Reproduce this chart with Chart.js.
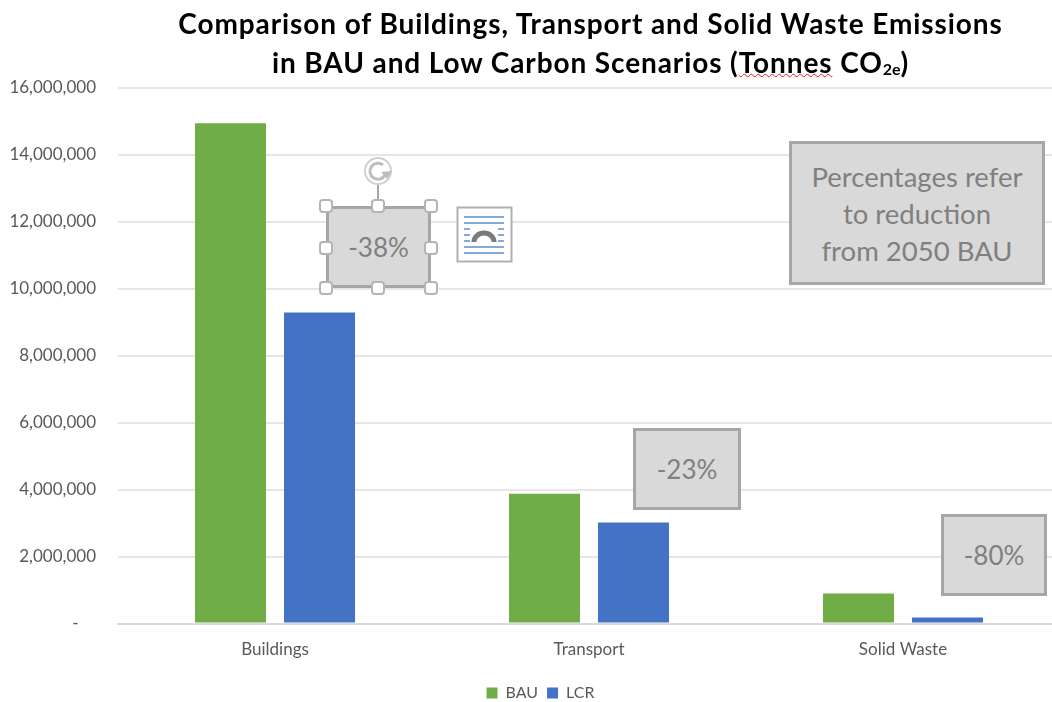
<!DOCTYPE html>
<html>
<head>
<meta charset="utf-8">
<script src="https://cdn.jsdelivr.net/npm/chart.js@4"></script>
<style>
html, body { margin: 0; padding: 0; background: #fff; overflow: hidden; }
#wrap { position: relative; width: 1052px; height: 702px; overflow: hidden; }
#chart-1 { position: absolute; left: 0; top: 0; }
#title { position: absolute; left: 0; top: 4px; width: 1181px; text-align: center; font: bold 28px/39px Lato, sans-serif; letter-spacing: 0.9px; color: #000; }
#title sub { font-size: 16px; line-height: 0; vertical-align: -2px; letter-spacing: 0; }
#title u { text-decoration: underline wavy #e02020 1px; text-underline-offset: 0px; }
.note { position: absolute; box-sizing: border-box; background: #d9d9d9; border: 3px solid #a6a6a6; color: #808080; font: 26px/37px Lato, sans-serif; text-align: center; display: flex; align-items: center; justify-content: center; }
.big { font-size: 27.5px; }
.handle { position: absolute; box-sizing: border-box; width: 14px; height: 14px; margin: -7px 0 0 -7px; background: #fff; border: 2px solid #b5b5b5; border-radius: 4px; }
#tools { position: absolute; left: 0; top: 0; }
</style>
</head>
<body>
<div id="wrap">
  <canvas id="chart-1" width="1060" height="711"></canvas>
  <div id="title">Comparison of Buildings, Transport and Solid Waste Emissions<br>in BAU and Low Carbon Scenarios (<u>Tonnes</u> CO<sub>2e</sub>)</div>
  <div class="note big" style="left:789px;top:141px;width:256px;height:144px">Percentages refer<br>to reduction<br>from 2050 BAU</div>
  <div class="note" style="left:326px;top:206px;width:105px;height:82px">-38%</div>
  <div class="note" style="left:633px;top:428px;width:108px;height:82px">-23%</div>
  <div class="note" style="left:941px;top:514px;width:106px;height:82px">-80%</div>
  <svg id="tools" width="1052" height="702">
    <line x1="378" y1="184" x2="378" y2="206" stroke="#a6a6a6" stroke-width="2"/>
    <circle cx="378" cy="171" r="13" fill="#fff" stroke="#d0d0d0" stroke-width="2"/>
    <path d="M385 175 A8 8 0 1 1 383 165" fill="none" stroke="#bdbdbd" stroke-width="3"/>
    <path d="M381 172 L392 171 L387 179 Z" fill="#bdbdbd"/>
    <rect x="457.5" y="207.5" width="54" height="54" fill="#fff" stroke="#b0b0b0" stroke-width="2"/>
    <g stroke="#5b8fc7" stroke-width="1.5">
      <line x1="464" y1="217" x2="504" y2="217"/>
      <line x1="464" y1="223" x2="504" y2="223"/>
      <line x1="464" y1="229" x2="470" y2="229"/><line x1="498" y1="229" x2="504" y2="229"/>
      <line x1="464" y1="235" x2="470" y2="235"/><line x1="498" y1="235" x2="504" y2="235"/>
      <line x1="464" y1="241" x2="470" y2="241"/><line x1="498" y1="241" x2="504" y2="241"/>
      <line x1="464" y1="247" x2="504" y2="247"/>
      <line x1="464" y1="253" x2="504" y2="253"/>
    </g>
    <path d="M474 242 A10 9 0 0 1 494 242" fill="none" stroke="#7a7a7a" stroke-width="5"/>
  </svg>
  <div class="handle" style="left:326px;top:206px"></div>
  <div class="handle" style="left:378px;top:206px"></div>
  <div class="handle" style="left:431px;top:206px"></div>
  <div class="handle" style="left:326px;top:248px"></div>
  <div class="handle" style="left:431px;top:248px"></div>
  <div class="handle" style="left:326px;top:288px"></div>
  <div class="handle" style="left:378px;top:288px"></div>
  <div class="handle" style="left:431px;top:288px"></div>
</div>
<script>
const categories = ["Buildings", "Transport", "Solid Waste"];
const bau = [14950000, 3880000, 900000];
const lcr = [9290000, 3020000, 180000];

// the legend sits right of the canvas centre in the original
const moveLegend = {
  id: "moveLegend",
  afterLayout: function(chart) { chart.legend.left += 21; },
};

const ctx1 = document.getElementById("chart-1").getContext("2d");
const myChart1 = new Chart(ctx1, {
  type: "bar",
  plugins: [moveLegend],
  data: {
    labels: categories,
    datasets: [
      { label: "BAU", data: bau, backgroundColor: "#70ad47", categoryPercentage: 0.567, barPercentage: 0.798 },
      { label: "LCR", data: lcr, backgroundColor: "#4472c4", categoryPercentage: 0.567, barPercentage: 0.798 },
    ],
  },
  options: {
    responsive: false,
    animation: false,
    layout: { padding: { top: 88, left: 0, right: 0, bottom: 0 } },
    plugins: {
      title: { display: false },
      tooltip: { enabled: false },
      legend: {
        position: "bottom",
        labels: { boxWidth: 11, boxHeight: 11, color: "#595959", font: { family: "Lato", size: 16 }, padding: 9 },
      },
    },
    scales: {
      x: {
        afterFit: function(axis) { axis.height += 8; },
        grid: { display: false },
        border: { color: "#d9d9d9", width: 2 },
        ticks: { color: "#595959", font: { family: "Lato", size: 17 }, padding: 8 },
      },
      y: {
        min: 0,
        max: 16000000,
        afterFit: function(axis) { axis.width = 118; },
        grid: { color: "#e6e6e6", lineWidth: 2, drawTicks: false },
        border: { display: false },
        ticks: {
          stepSize: 2000000,
          padding: 22,
          color: "#595959",
          font: { family: "Lato", size: 17 },
          callback: function(value) {
            return value === 0 ? "-    " : value.toLocaleString("en-US");
          },
        },
      },
    },
  },
});
</script>
</body>
</html>
